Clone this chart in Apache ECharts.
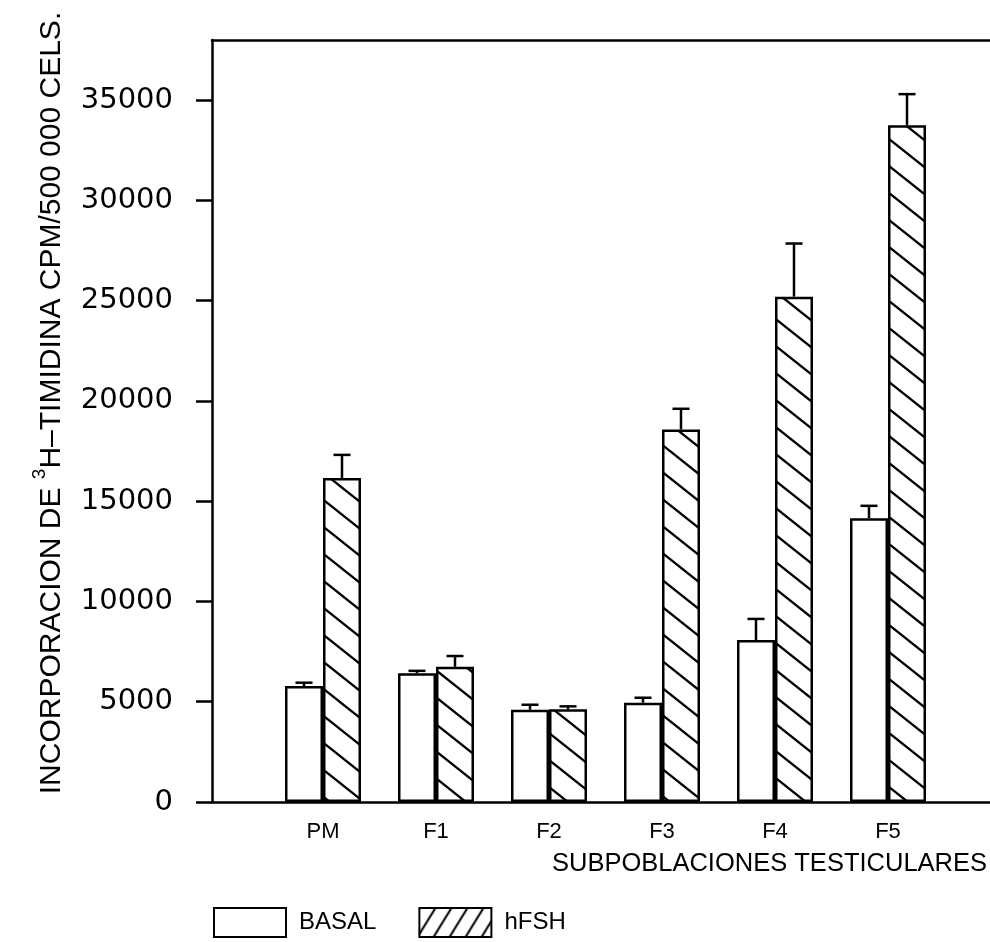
<!DOCTYPE html>
<html><head><meta charset="utf-8">
<script src="https://cdn.jsdelivr.net/npm/echarts@6/dist/echarts.min.js"></script>
<style>html,body{margin:0;padding:0;background:#fff}#c{width:990px;height:942px}</style>
</head><body><div id="c"></div>
<script>
const categories = ['PM', 'F1', 'F2', 'F3', 'F4', 'F5'];
const seriesNames = ['BASAL', 'hFSH'];
const basal = [5780, 6420, 4600, 4950, 8080, 14150];
const basalErr = [170, 120, 250, 250, 1050, 620];
const hfsh = [16160, 6740, 4620, 18580, 25200, 33750];
const hfshErr = [1150, 540, 150, 1030, 2650, 1550];
const yTicks = [0, 5000, 10000, 15000, 20000, 25000, 30000, 35000];
const yMax = 38000;

const BAR_W = 38;
const LW = 2.5;

function hatch(w, h, dir, lw) {
  const c = document.createElement('canvas');
  c.width = w; c.height = h;
  const g = c.getContext('2d');
  g.fillStyle = '#fff'; g.fillRect(0, 0, w, h);
  g.strokeStyle = '#000'; g.lineWidth = lw;
  for (const k of [-1, 0, 1]) {
    g.beginPath();
    if (dir > 0) { g.moveTo(-w, -h + k * h); g.lineTo(2 * w, 2 * h + k * h); }
    else { g.moveTo(-w, 2 * h + k * h); g.lineTo(2 * w, -h + k * h); }
    g.stroke();
  }
  return c;
}
const barPattern = { image: hatch(34, 27, 1, 2.3), repeat: 'repeat' };
const legendPattern = { image: hatch(16, 26, -1, 2), repeat: 'repeat' };

const chart = echarts.init(document.getElementById('c'), null, { renderer: 'canvas' });
const FONT = 'Liberation Sans';
const AXIS_LINE = { show: true, lineStyle: { color: '#000', width: LW } };

chart.setOption({
  animation: false,
  backgroundColor: '#fff',
  grid: [
    { left: 212, right: 0, top: 40, bottom: 140 },
    { left: 266.5, right: 45.5, top: 40, bottom: 140 }
  ],
  xAxis: [
    {
      type: 'value', gridIndex: 0, min: 0, max: 1, position: 'bottom',
      axisLine: AXIS_LINE,
      axisTick: { show: false }, axisLabel: { show: false }, splitLine: { show: false },
      name: 'SUBPOBLACIONES TESTICULARES', nameLocation: 'end', nameGap: -3,
      nameTextStyle: { fontFamily: FONT, fontSize: 25.5, color: '#000', align: 'right', verticalAlign: 'top', padding: [49, 0, 0, 0] }
    },
    {
      type: 'category', gridIndex: 1, data: categories,
      axisLine: { show: false }, axisTick: { show: false },
      axisLabel: { fontFamily: FONT, fontSize: 22, color: '#000', margin: 19 }
    },
    {
      type: 'value', gridIndex: 0, min: 0, max: 1, position: 'top',
      axisLine: AXIS_LINE,
      axisTick: { show: false }, axisLabel: { show: false }, splitLine: { show: false }
    }
  ],
  yAxis: [
    {
      type: 'value', gridIndex: 0, min: 0, max: yMax,
      axisLine: AXIS_LINE,
      axisTick: { show: true, customValues: yTicks, length: 16, lineStyle: { color: '#000', width: LW } },
      axisLabel: { customValues: yTicks, margin: 39, fontFamily: 'DejaVu Sans', fontSize: 29, color: '#000',
        formatter: function (v) { return String(v); } },
      splitLine: { show: false },
      name: '{a|INCORPORACION DE }{s|3}{a|H\u2013TIMIDINA CPM/500 000 CELS.}',
      nameLocation: 'middle', nameRotate: 90, nameGap: 138,
      nameTextStyle: {
        color: '#000', padding: [0, 0, 0, 36],
        rich: {
          a: { fontFamily: FONT, fontSize: 30, lineHeight: 44, color: '#000' },
          s: { fontFamily: FONT, fontSize: 19, verticalAlign: 'top', color: '#000' }
        }
      }
    },
    { type: 'value', gridIndex: 1, min: 0, max: yMax, show: false }
  ],
  legend: {
    left: 213, top: 907, padding: 0, itemWidth: 72, itemHeight: 29, itemGap: 42,
    textStyle: { fontFamily: FONT, fontSize: 24, color: '#000', padding: [0, 0, 0, 8] },
    data: [
      { name: seriesNames[0], icon: 'rect', itemStyle: { color: '#fff', borderColor: '#000', borderWidth: 2 } },
      { name: seriesNames[1], icon: 'rect', itemStyle: { color: legendPattern, borderColor: '#000', borderWidth: 2 } }
    ]
  },
  series: [
    {
      name: seriesNames[0], type: 'bar', xAxisIndex: 1, yAxisIndex: 1, data: basal,
      barWidth: BAR_W, barGap: '0%',
      itemStyle: { color: '#fff', borderColor: '#000', borderWidth: LW }
    },
    {
      name: seriesNames[1], type: 'bar', xAxisIndex: 1, yAxisIndex: 1, data: hfsh,
      barWidth: BAR_W, barGap: '0%',
      itemStyle: { color: barPattern, borderColor: '#000', borderWidth: LW }
    },
    {
      type: 'custom', xAxisIndex: 1, yAxisIndex: 1, z: 5,
      encode: { x: 0, y: 1 },
      data: categories.map((c, i) => [i, basal[i], basal[i] + basalErr[i], hfsh[i], hfsh[i] + hfshErr[i]]),
      renderItem: function (params, api) {
        const i = api.value(0);
        const children = [];
        [[1, 2, -1], [3, 4, 1]].forEach(function (d) {
          const p0 = api.coord([i, api.value(d[0])]);
          const p1 = api.coord([i, api.value(d[1])]);
          const x = p0[0] + d[2] * BAR_W / 2;
          children.push({ type: 'line', shape: { x1: x, y1: p0[1], x2: x, y2: p1[1] }, style: { stroke: '#000', lineWidth: LW } });
          children.push({ type: 'line', shape: { x1: x - 8.5, y1: p1[1], x2: x + 8.5, y2: p1[1] }, style: { stroke: '#000', lineWidth: LW } });
        });
        return { type: 'group', children: children };
      }
    }
  ]
});
</script>
</body></html>
